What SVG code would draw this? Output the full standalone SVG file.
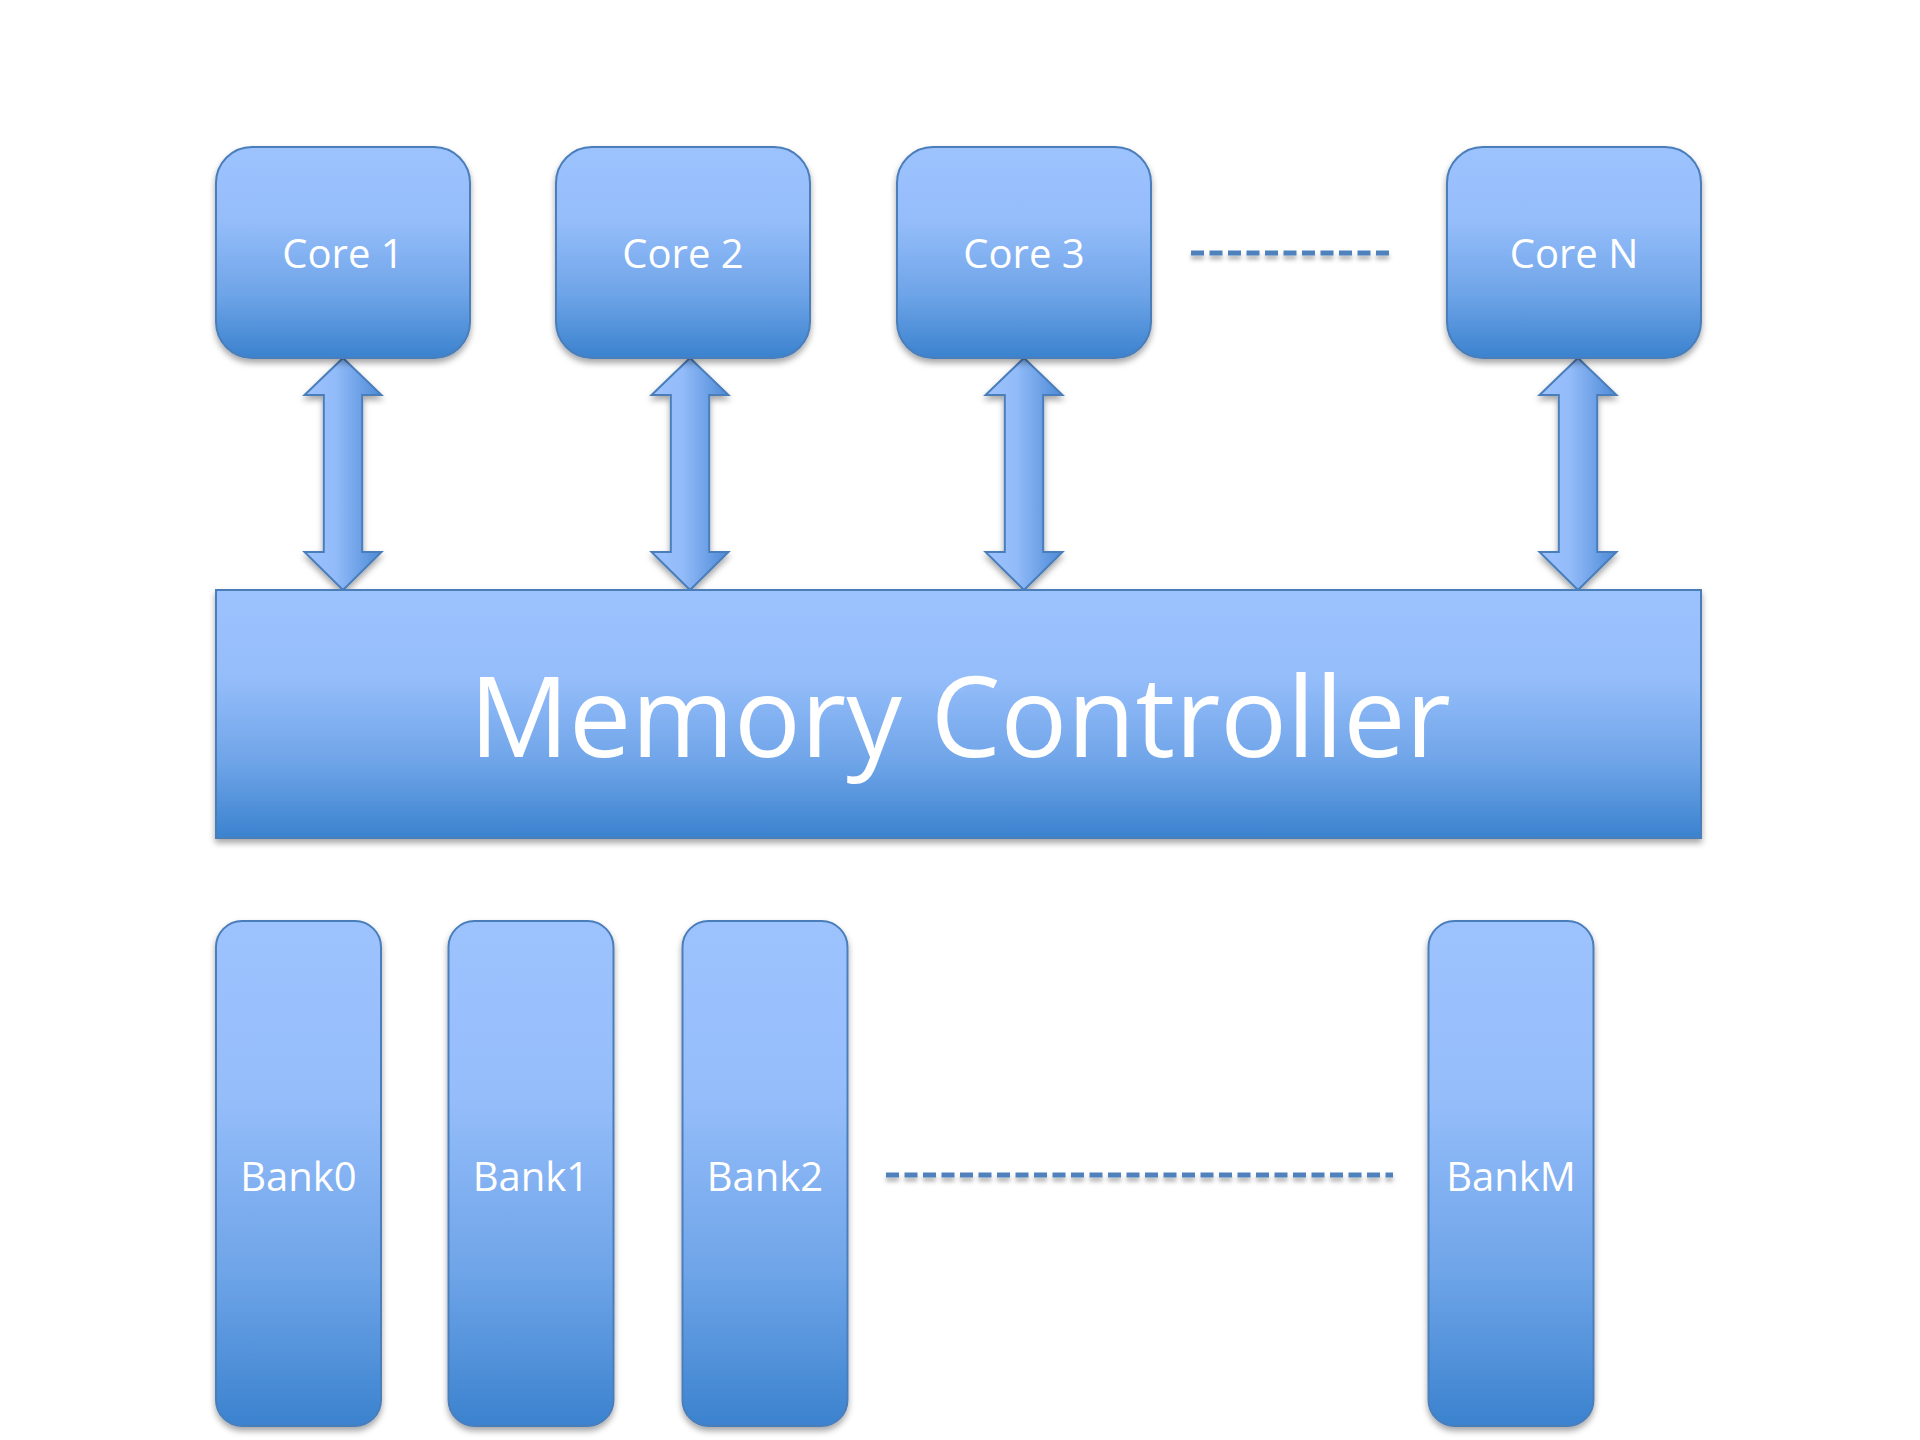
<svg xmlns="http://www.w3.org/2000/svg" width="1920" height="1440" viewBox="0 0 1920 1440">
<defs>
<linearGradient id="gv" x1="0" y1="0" x2="0" y2="1">
<stop offset="0" stop-color="#9dc3fe"/>
<stop offset="0.35" stop-color="#95bdfa"/>
<stop offset="0.7" stop-color="#6ea4e8"/>
<stop offset="1" stop-color="#3b82ce"/>
</linearGradient>
<linearGradient id="gh" x1="0" y1="0" x2="1" y2="0">
<stop offset="0" stop-color="#9dc3fe"/>
<stop offset="0.4" stop-color="#92bbf9"/>
<stop offset="1" stop-color="#4d8ad6"/>
</linearGradient>
<filter id="sh" x="-20%" y="-20%" width="140%" height="140%">
<feDropShadow dx="0" dy="4" stdDeviation="3" flood-color="#000" flood-opacity="0.35"/>
</filter>
<filter id="shl" filterUnits="userSpaceOnUse" x="0" y="0" width="1920" height="1440">
<feDropShadow dx="0" dy="4" stdDeviation="2" flood-color="#000" flood-opacity="0.3"/>
</filter>
</defs>
<style>
.box{fill:url(#gv);stroke:#4a7ebb;stroke-width:2;filter:url(#sh)}
.arr{fill:url(#gh);stroke:#4a7ebb;stroke-width:2;filter:url(#sh)}
.lbl{fill:#fff;font-family:"Open Sans","Noto Sans",sans-serif;font-size:40px;text-anchor:middle}
.big{fill:#fff;font-family:"Open Sans","Noto Sans",sans-serif;font-size:111px;text-anchor:middle}
.dash{stroke:#4f81bd;stroke-width:5;fill:none;stroke-dasharray:13 5.5;filter:url(#shl)}
</style>
<rect width="1920" height="1440" fill="#fff"/>
<g id="connectors">
<path class="arr" d="M343 358 L381.5 395 L362.2 395 L362.2 552 L381.5 552 L343 590 L304.5 552 L323.8 552 L323.8 395 L304.5 395 Z"/>
<path class="arr" d="M690 358 L728.5 395 L709.2 395 L709.2 552 L728.5 552 L690 590 L651.5 552 L670.8 552 L670.8 395 L651.5 395 Z"/>
<path class="arr" d="M1024 358 L1062.5 395 L1043.2 395 L1043.2 552 L1062.5 552 L1024 590 L985.5 552 L1004.8 552 L1004.8 395 L985.5 395 Z"/>
<path class="arr" d="M1578 358 L1616.5 395 L1597.2 395 L1597.2 552 L1616.5 552 L1578 590 L1539.5 552 L1558.8 552 L1558.8 395 L1539.5 395 Z"/>
<line class="dash" x1="1191" y1="253" x2="1393" y2="253"/>
<line class="dash" x1="886" y1="1175" x2="1393" y2="1175"/>
</g>
<g id="core1"><rect class="box" x="216" y="147" width="254" height="211" rx="36" ry="36"/><text class="lbl" x="343" y="268">Core 1</text></g>
<g id="core2"><rect class="box" x="556" y="147" width="254" height="211" rx="36" ry="36"/><text class="lbl" x="683" y="268">Core 2</text></g>
<g id="core3"><rect class="box" x="897" y="147" width="254" height="211" rx="36" ry="36"/><text class="lbl" x="1024" y="268">Core 3</text></g>
<g id="coreN"><rect class="box" x="1447" y="147" width="254" height="211" rx="36" ry="36"/><text class="lbl" x="1574" y="268">Core N</text></g>
<g id="memctrl"><rect class="box" x="216" y="590" width="1485" height="248"/><text class="big" x="960" y="757">Memory Controller</text></g>
<g id="bank0"><rect class="box" x="216" y="921" width="165" height="505" rx="26" ry="26"/><text class="lbl" x="298.5" y="1191">Bank0</text></g>
<g id="bank1"><rect class="box" x="448.5" y="921" width="165" height="505" rx="26" ry="26"/><text class="lbl" x="531" y="1191">Bank1</text></g>
<g id="bank2"><rect class="box" x="682.5" y="921" width="165" height="505" rx="26" ry="26"/><text class="lbl" x="765" y="1191">Bank2</text></g>
<g id="bankM"><rect class="box" x="1428.5" y="921" width="165" height="505" rx="26" ry="26"/><text class="lbl" x="1511" y="1191">BankM</text></g>
</svg>
